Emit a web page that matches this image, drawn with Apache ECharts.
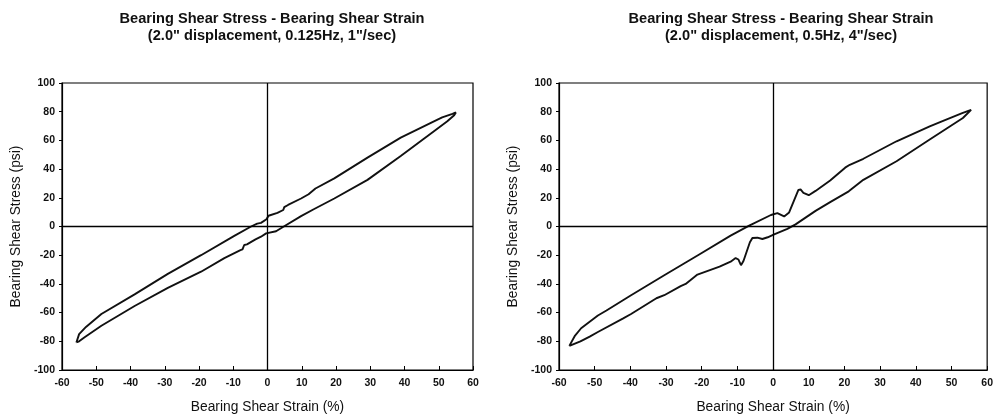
<!DOCTYPE html>
<html>
<head>
<meta charset="utf-8">
<script src="https://cdn.jsdelivr.net/npm/echarts@6/dist/echarts.min.js"></script>
<style>
html,body{margin:0;padding:0;background:#fff;}
#chart{width:996px;height:419px;}
</style>
</head>
<body>
<div id="chart"></div>
<script>
// ---- Data ----
var titleLeft = 'Bearing Shear Stress - Bearing Shear Strain\n(2.0" displacement, 0.125Hz, 1"/sec)';
var titleRight = 'Bearing Shear Stress - Bearing Shear Strain\n(2.0" displacement, 0.5Hz, 4"/sec)';
var xAxisName = 'Bearing Shear Strain (%)';
var yAxisName = 'Bearing Shear Stress (psi)';

// Left test (0.125 Hz): loading branch then unloading branch, closed loop
var strainLeft = [
  -55.8, -55.0, -53.4, -48.5, -38.8, -29.1, -19.4, -12.6, -7.9, -7.3, -6.8, -6.0, -3.5, -1.9, -0.4, 0.0, 2.5, 4.4, 9.8, 13.5, 19.5, 29.2, 38.9, 48.6, 52.5, 54.5, 55.0,
  54.0, 51.0, 48.6, 38.9, 29.2, 19.5, 14.0, 12.0, 9.8, 6.0, 4.9, 4.6, 2.9, 0.3, -0.3, -1.9, -3.0, -4.8, -9.7, -19.4, -29.1, -38.8, -48.5, -53.0, -55.0, -55.8
];
var stressLeft = [
  -80.8, -80.0, -77.2, -69.2, -55.4, -42.8, -31.5, -22.0, -16.5, -16.0, -12.9, -12.5, -9.0, -7.1, -4.8, -3.7, -3.3, -0.5, 7.2, 12.0, 19.5, 32.5, 49.2, 66.4, 73.3, 77.5, 79.5,
  78.5, 76.0, 73.3, 61.9, 48.0, 33.5, 26.5, 22.5, 19.5, 15.0, 13.5, 11.5, 9.5, 7.5, 5.0, 2.5, 2.0, 0.0, -6.5, -20.0, -33.0, -47.3, -61.0, -70.0, -75.0, -80.8
];

// Right test (0.5 Hz)
var strainRight = [
  -57.1, -54.0, -51.4, -49.1, -42.0, -39.8, -32.7, -30.5, -25.9, -24.5, -22.5, -21.2, -20.7, -15.0, -11.9, -10.5, -9.7, -9.0, -8.3, -6.5, -5.8, -4.4, -3.0, -1.5, 0.3, 4.0, 6.3, 11.9, 16.0, 21.2, 25.3, 34.6, 43.9, 53.2, 55.5,
  53.0, 48.0, 43.9, 34.6, 25.3, 21.5, 20.2, 18.8, 16.0, 11.9, 10.0, 8.5, 7.7, 7.1, 4.5, 3.1, 1.2, -0.6, -6.7, -11.9, -20.7, -30.5, -39.8, -46.7, -49.1, -53.8, -55.5, -57.1
];
var stressRight = [
  -83.2, -80.0, -76.7, -73.5, -64.0, -61.0, -50.0, -47.9, -41.5, -40.0, -36.0, -33.5, -32.5, -28.0, -24.5, -22.0, -23.0, -27.0, -24.0, -11.0, -8.0, -7.8, -8.7, -7.5, -5.5, -1.7, 1.5, 10.9, 17.0, 24.5, 32.5, 45.5, 60.6, 75.6, 81.3,
  79.0, 74.0, 69.8, 59.4, 47.2, 43.0, 41.0, 38.0, 32.0, 24.8, 21.8, 23.5, 25.8, 25.5, 9.8, 7.0, 9.3, 8.0, 0.6, -6.4, -19.5, -34.0, -47.9, -58.5, -62.0, -70.9, -76.0, -83.2
];

var xMin = -60, xMax = 60, xStep = 10;
var yMin = -100, yMax = 100, yStep = 20;

function zip(a, b) { var r = []; for (var i = 0; i < a.length; i++) r.push([a[i], b[i]]); return r; }

var font = 'Liberation Sans, Arial, sans-serif';
var ink = '#111';

function xAxisCfg(gi) {
  return {
    gridIndex: gi, type: 'value', min: xMin, max: xMax, interval: xStep,
    name: xAxisName, nameLocation: 'middle', nameGap: 30,
    nameTextStyle: { fontFamily: font, fontSize: 13.8, color: ink },
    axisLine: { show: true, onZero: false, lineStyle: { color: '#000', width: 1.2 } },
    axisTick: { show: true, inside: true, length: 4, lineStyle: { color: '#000' } },
    axisLabel: { fontFamily: font, fontSize: 10.5, fontWeight: 'bold', color: ink, margin: 8 },
    splitLine: { show: false }
  };
}
function yAxisCfg(gi) {
  return {
    gridIndex: gi, type: 'value', min: yMin, max: yMax, interval: yStep,
    name: yAxisName, nameLocation: 'middle', nameGap: 39, nameRotate: 90,
    nameTextStyle: { fontFamily: font, fontSize: 13.8, color: ink },
    axisLine: { show: true, onZero: false, lineStyle: { color: '#000', width: 1.2 } },
    axisTick: { show: true, inside: false, length: 3, lineStyle: { color: '#000' } },
    axisLabel: { fontFamily: font, fontSize: 10.5, fontWeight: 'bold', color: ink, margin: 7 },
    splitLine: { show: false }
  };
}
function zeroLines() {
  return {
    silent: true, symbol: 'none', label: { show: false },
    lineStyle: { color: '#000', type: 'solid', width: 1.3 },
    data: [{ xAxis: 0 }, { yAxis: 0 }]
  };
}

var chart = echarts.init(document.getElementById('chart'), null, { renderer: 'canvas' });
chart.setOption({
  animation: false,
  backgroundColor: '#fff',
  title: [
    { text: titleLeft, left: 267, top: 5, textAlign: 'center',
      textStyle: { fontFamily: font, fontSize: 14.6, fontWeight: 'bold', color: ink, lineHeight: 17 } },
    { text: titleRight, left: 776, top: 5, textAlign: 'center',
      textStyle: { fontFamily: font, fontSize: 14.6, fontWeight: 'bold', color: ink, lineHeight: 17 } }
  ],
  grid: [
    { left: 62, top: 83, width: 411, height: 290, show: true, borderColor: '#000', borderWidth: 1.2, backgroundColor: 'transparent' },
    { left: 559, top: 83, width: 430, height: 289, show: true, borderColor: '#000', borderWidth: 1.2, backgroundColor: 'transparent' }
  ],
  xAxis: [xAxisCfg(0), xAxisCfg(1)],
  yAxis: [yAxisCfg(0), yAxisCfg(1)],
  series: [
    { type: 'line', xAxisIndex: 0, yAxisIndex: 0, data: zip(strainLeft, stressLeft),
      showSymbol: false, symbol: 'none', lineStyle: { color: ink, width: 1.9 }, markLine: zeroLines() },
    { type: 'line', xAxisIndex: 1, yAxisIndex: 1, data: zip(strainRight, stressRight),
      showSymbol: false, symbol: 'none', lineStyle: { color: ink, width: 1.9 }, markLine: zeroLines() }
  ]
});
</script>
</body>
</html>
